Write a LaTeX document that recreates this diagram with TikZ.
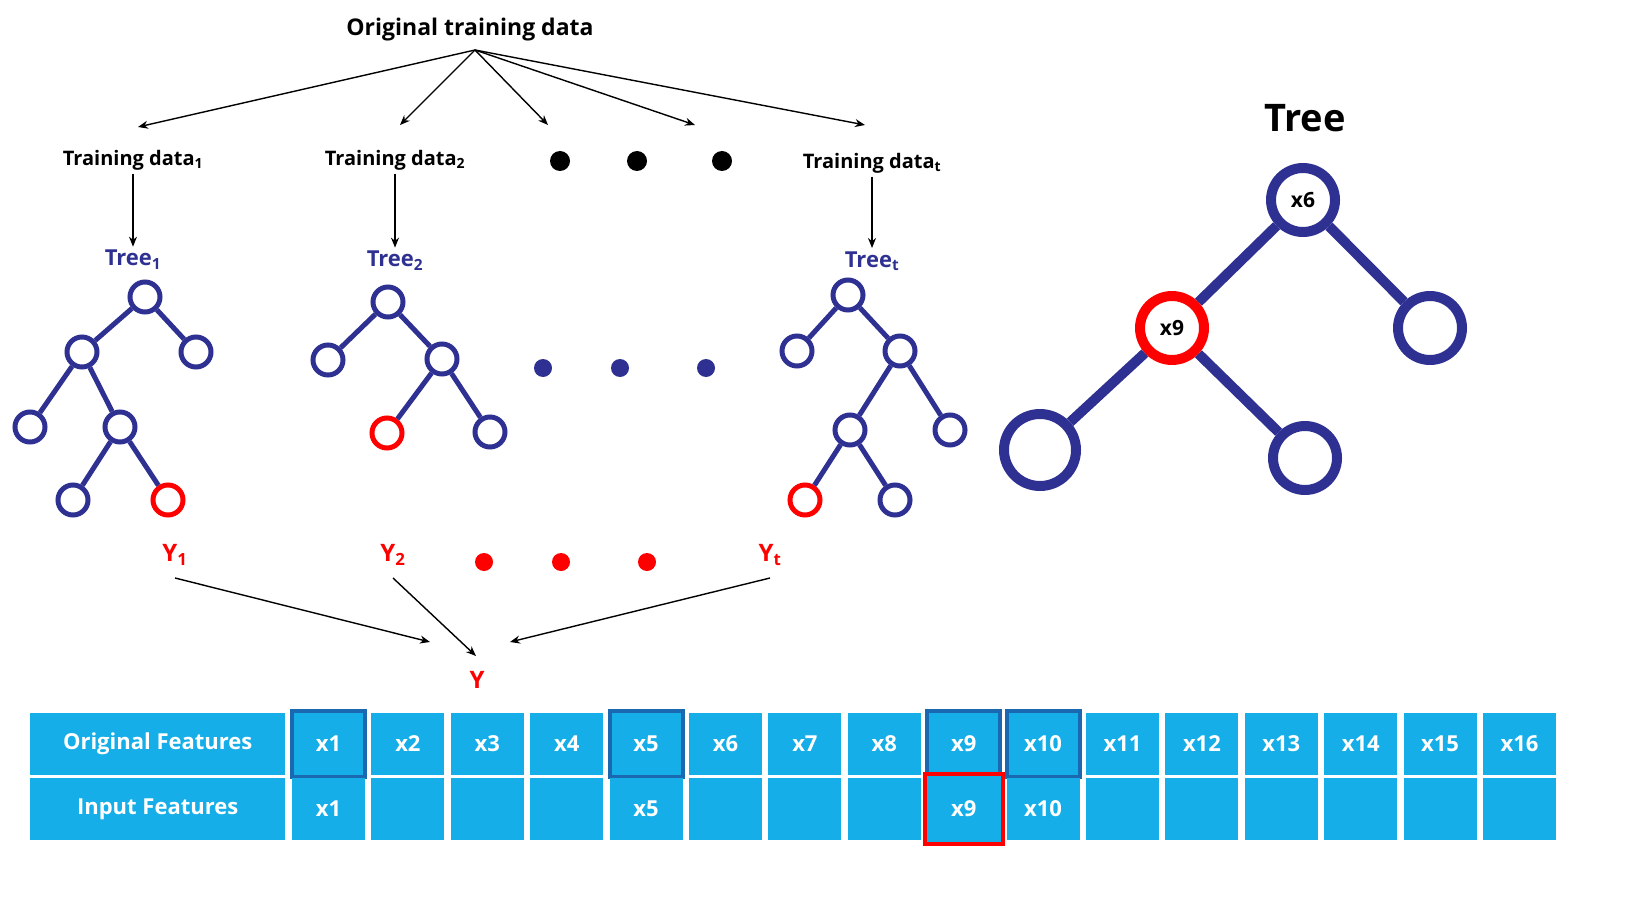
\documentclass[tikz,border=0pt]{standalone}
\usepackage{fontspec}
\setmainfont{Open Sans}
\usetikzlibrary{arrows.meta}
\begin{document}
\begin{tikzpicture}[x=1pt,y=-1pt,
  arr/.style={-{Stealth[length=10pt,width=8pt]},line width=1.4pt},
  tn/.style={circle,draw=navy,line width=5pt,minimum size=30pt,inner sep=0},
  rn/.style={tn,draw=red},
  te/.style={navy,line width=5pt},
  bn/.style={circle,draw=navy,line width=10pt,minimum size=64pt,inner sep=0,font=\fontsize{21}{22}\selectfont\bfseries},
  be/.style={navy,line width=10pt},
  lbl/.style={font=\fontsize{20}{21}\selectfont\bfseries},
  tl/.style={font=\fontsize{22}{23}\selectfont\bfseries,text=navy},
  yl/.style={font=\fontsize{24}{25}\selectfont\bfseries,text=red},
  cell/.style={fill=cyan1,minimum width=73pt,minimum height=62pt,inner sep=0,text=white,font=\fontsize{22}{23}\selectfont\bfseries},
  hcell/.style={cell,draw=hblue,line width=4pt},
  dot/.style={circle,fill=#1,inner sep=0,minimum size=20pt}]
\definecolor{navy}{HTML}{2E3192}
\definecolor{cyan1}{HTML}{15AEE8}
\definecolor{hblue}{HTML}{1A68B0}
\useasboundingbox (0,0) rectangle (1632,901);
\node[lbl,font=\fontsize{23}{25}\selectfont\bfseries] (orig) at (470,30) {Original training data};
\coordinate (src) at (475,50);
\coordinate (a1) at (138,127);\coordinate (a2) at (400,125);\coordinate (a3) at (548,125);\coordinate (a4) at (695,125);\coordinate (a5) at (865,125);
\foreach \c in {a1,a2,a3,a4,a5}{\draw[arr] (src) -- (\c);}
\node[lbl] (td1) at (133,160) {Training data\textsubscript{1}};
\node[lbl] (td2) at (395,160) {Training data\textsubscript{2}};
\node[lbl] (tdt) at (872,163) {Training data\textsubscript{t}};
\node[dot=black] (b1) at (560,161) {};\node[dot=black] (b2) at (637,161) {};\node[dot=black] (b3) at (722,161) {};
\node[tl] (t1) at (133,260) {Tree\textsubscript{1}};
\node[tl] (t2) at (395,261) {Tree\textsubscript{2}};
\node[tl] (tt) at (872,261) {Tree\textsubscript{t}};
\draw[arr] (td1) -- (t1);
\draw[arr] (td2) -- (t2);
\draw[arr] (tdt) -- (tt);
% tree 1
\node[tn] (p0) at (145,297) {};\node[tn] (p1) at (82,352) {};\node[tn] (p2) at (196,352) {};
\node[tn] (p3) at (30,427) {};\node[tn] (p4) at (120,427) {};\node[tn] (p5) at (73,500) {};\node[rn] (p6) at (168,500) {};
\draw[te] (p0)--(p1) (p0)--(p2) (p1)--(p3) (p1)--(p4) (p4)--(p5) (p4)--(p6);
% tree 2
\node[tn] (q0) at (388,302) {};\node[tn] (q1) at (328,360) {};\node[tn] (q2) at (442,359) {};
\node[rn] (q3) at (387,433) {};\node[tn] (q4) at (490,432) {};
\draw[te] (q0)--(q1) (q0)--(q2) (q2)--(q3) (q2)--(q4);
% tree t
\node[tn] (r0) at (848,295) {};\node[tn] (r1) at (797,351) {};\node[tn] (r2) at (900,351) {};
\node[tn] (r3) at (850,430) {};\node[tn] (r4) at (950,430) {};\node[rn] (r5) at (805,500) {};\node[tn] (r6) at (895,500) {};
\draw[te] (r0)--(r1) (r0)--(r2) (r2)--(r3) (r2)--(r4) (r3)--(r5) (r3)--(r6);
\node[dot=navy,minimum size=18pt] (n1) at (543,368) {};\node[dot=navy,minimum size=18pt] (n2) at (620,368) {};\node[dot=navy,minimum size=18pt] (n3) at (706,368) {};
% outputs
\node[yl] (y1) at (175,555) {Y\textsubscript{1}};
\node[yl] (y2) at (393,555) {Y\textsubscript{2}};
\node[yl] (yt) at (770,555) {Y\textsubscript{t}};
\node[dot=red,minimum size=18pt] (r1d) at (484,562) {};\node[dot=red,minimum size=18pt] (r2d) at (561,562) {};\node[dot=red,minimum size=18pt] (r3d) at (647,562) {};
\node[yl] (y) at (477,680) {Y};
\coordinate (e1) at (430,642);\coordinate (e2) at (476,656);\coordinate (e3) at (510,642);
\draw[arr] (175,578) -- (e1);
\draw[arr] (393,578) -- (e2);
\draw[arr] (770,578) -- (e3);
% big tree
\node[font=\fontsize{38}{40}\selectfont\bfseries] (tree) at (1305,118) {Tree};
\node[bn] (x6) at (1303,200) {x6};
\node[bn,draw=red] (x9) at (1172,328) {x9};
\node[bn] (xr) at (1430,328) {};
\node[bn,minimum size=72pt] (xll) at (1040,450) {};
\node[bn] (xlr) at (1305,458) {};
\draw[be] (x6)--(x9) (x6)--(xr) (x9)--(xll) (x9)--(xlr);
% table
\node[cell,minimum width=255pt,anchor=west] (of) at (30,744) {Original Features};
\node[cell,minimum width=255pt,anchor=west] (if) at (30,809) {Input Features};
\foreach \i in {1,...,16}{
  \pgfmathsetmacro\xx{328.5+(\i-1)*79.4}
  \node[cell] (o\i) at (\xx,744) {x\i};
}
\foreach \i in {1,5,9,10}{
  \pgfmathsetmacro\xx{328.5+(\i-1)*79.4}
  \node[hcell,minimum height=66pt] (h\i) at (\xx,744) {x\i};
}
\foreach \i in {1,...,16}{
  \pgfmathsetmacro\xx{328.5+(\i-1)*79.4}
  \node[cell] (i\i) at (\xx,809) {};
}
\node[text=white,font=\fontsize{22}{23}\selectfont\bfseries] at (i1) {x1};
\node[text=white,font=\fontsize{22}{23}\selectfont\bfseries] at (i5) {x5};
\node[text=white,font=\fontsize{22}{23}\selectfont\bfseries] at (i10) {x10};
\node[cell,draw=red,line width=4pt,minimum width=78pt,minimum height=70pt] (i9b) at (i9) {x9};
\end{tikzpicture}
\end{document}
